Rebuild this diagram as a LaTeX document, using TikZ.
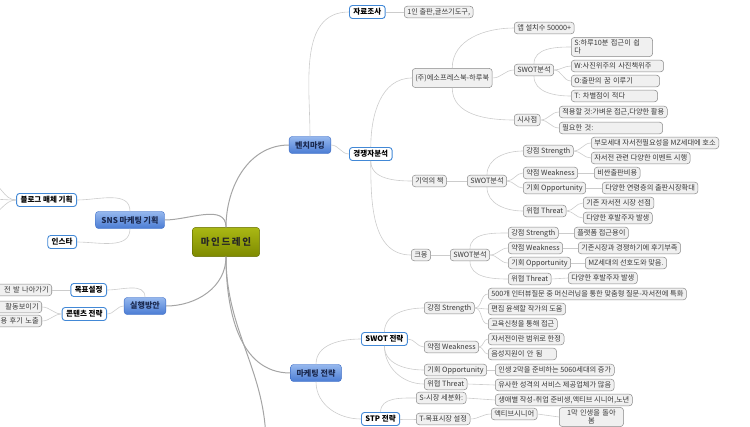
\documentclass[tikz,border=0pt]{standalone}
\usepackage{fontspec}
\setmainfont{Noto Sans CJK KR}
\usepackage{tikz}
\definecolor{olivetop}{RGB}{170,184,20}
\definecolor{olivebot}{RGB}{126,138,0}
\definecolor{oliveedge}{RGB}{100,110,0}
\definecolor{bluetop}{RGB}{150,184,238}
\definecolor{bluebot}{RGB}{74,124,212}
\definecolor{blueedge}{RGB}{58,106,196}
\definecolor{navytext}{RGB}{26,40,78}
\definecolor{subedge}{RGB}{66,136,214}
\definecolor{leafgrey}{RGB}{240,240,240}
\definecolor{leafedge}{RGB}{136,136,136}
\definecolor{linkgrey}{RGB}{204,204,204}
\definecolor{trunkgrey}{RGB}{165,165,165}

\begin{document}
\begin{tikzpicture}[
  x=0.035cm, y=-0.035cm,
  font=\fontsize{7.2}{8.2}\selectfont,
  centre/.style={draw=oliveedge, top color=olivetop, bottom color=olivebot, rounded corners=3pt, minimum width=67, minimum height=29, text=black!85, font=\bfseries\fontsize{9.5}{11}\selectfont},
  topic/.style={draw=blueedge, top color=bluetop, bottom color=bluebot, rounded corners=3pt, minimum height=17, inner xsep=6, text=navytext, font=\bfseries\fontsize{8}{9}\selectfont},
  sub/.style={draw=subedge, line width=0.9pt, fill=white, rounded corners=3pt, minimum height=13, inner xsep=4, inner ysep=1.5, font=\bfseries\fontsize{7.5}{8.5}\selectfont},
  leaf/.style={draw=leafedge, fill=leafgrey, rounded corners=3pt, minimum height=11.5, inner xsep=3, inner ysep=1.5, text=black!78, line width=0.5pt},
  link/.style={draw=linkgrey, line width=0.6pt},
  trunk/.style={draw=trunkgrey, line width=1pt},
  rise/.style={out=90, in=180},
  fall/.style={out=-90, in=180},
  flat/.style={out=0, in=180}
]
\useasboundingbox (0,0) rectangle (750,427);
\clip (0,0) rectangle (750,427);

% centre and main topics
\node[centre] (root) at (226,242) {마\,인\,드\,레\,인};
\node[topic] (bench) at (310,145) {벤치마킹};
\node[topic] (sns)   at (130,220) {SNS 마케팅 기획};
\node[topic] (plan)  at (145,306) {실행방안};
\node[topic] (mkt)   at (316,373) {마케팅 전략};
\coordinate (lower) at (266,445);

% second level
\node[sub, anchor=west] (survey)   at (349,12)  {자료조사};
\node[sub, anchor=west] (rival)    at (349,154) {경쟁자분석};
\node[sub, anchor=east] (blog)     at (77,200)  {블로그 매체 기획};
\node[sub, anchor=east] (insta)    at (77,242)  {인스타};
\node[sub, anchor=east] (goal)     at (107,290) {목표설정};
\node[sub, anchor=east] (content)  at (107,314) {콘텐츠 전략};
\node[sub, anchor=west] (swotplan) at (361,339) {SWOT 전략};
\node[sub, anchor=west] (stp)      at (361,419) {STP 전략};

% 자료조사
\node[leaf, anchor=west] (tools) at (404,12) {1인 출판,글쓰기도구,};

% 경쟁자분석 : 하루북
\node[leaf, anchor=west, minimum height=19] (harubook) at (412,78) {(주)에소프레스북-하루북};
\node[leaf, anchor=west] (installs) at (514,28) {앱 설치수 50000+};
\node[leaf, anchor=west] (swot1) at (514,70) {SWOT분석};
\node[leaf, anchor=west, text width=75, align=left, minimum height=19] (s1) at (571,47) {S:하루10분 접근이 쉽\\다};
\node[leaf, anchor=west, text width=86, align=left] (w1) at (571,66) {W:사진위주의 사진책위주};
\node[leaf, anchor=west, text width=82, align=left] (o1) at (571,81) {O:출판의 꿈 이루기};
\node[leaf, anchor=west, text width=80, align=left] (t1) at (571,96) {T: 차별점이 적다};
\node[leaf, anchor=west] (insight) at (514,120) {시사점};
\node[leaf, anchor=west] (apply) at (559,112) {적용할 것:가벼운 접근,다양한 활용};
\node[leaf, anchor=west, text width=97, align=left] (need) at (559,128) {필요한 것:};

% 경쟁자분석 : 기억의 책
\node[leaf, anchor=west] (memory) at (412,181) {기억의 책};
\node[leaf, anchor=west] (swot2) at (467,181) {SWOT분석};
\node[leaf, anchor=west] (str2) at (523,151) {강점 Strength};
\node[leaf, anchor=west] (str2a) at (591,143) {부모세대 자서전필요성을 MZ세대에 호소};
\node[leaf, anchor=west] (str2b) at (591,158) {자서전 관련 다양한 이벤트 시행};
\node[leaf, anchor=west] (weak2) at (523,173) {약점 Weakness};
\node[leaf, anchor=west] (weak2a) at (594,173) {비싼출판비용};
\node[leaf, anchor=west] (opp2) at (523,188) {기회 Opportunity};
\node[leaf, anchor=west] (opp2a) at (602,188) {다양한 연령층의 출판시장확대};
\node[leaf, anchor=west] (thr2) at (523,211) {위협 Threat};
\node[leaf, anchor=west] (thr2a) at (583,203) {기존 자서전 시장 선점};
\node[leaf, anchor=west] (thr2b) at (583,218) {다양한 후발주자 발생};

% 경쟁자분석 : 크몽
\node[leaf, anchor=west] (kmong) at (411,255) {크몽};
\node[leaf, anchor=west] (swot3) at (450,255) {SWOT분석};
\node[leaf, anchor=west] (str3) at (508,233) {강점 Strength};
\node[leaf, anchor=west] (str3a) at (574,233) {플랫폼 접근용이};
\node[leaf, anchor=west] (weak3) at (508,248) {약점 Weakness};
\node[leaf, anchor=west] (weak3a) at (578,248) {기존시장과 경쟁하기에 후기부족};
\node[leaf, anchor=west] (opp3) at (508,263) {기회 Opportunity};
\node[leaf, anchor=west] (opp3a) at (585,263) {MZ세대의 선호도와 맞음.};
\node[leaf, anchor=west] (thr3) at (508,279) {위협 Threat};
\node[leaf, anchor=west] (thr3a) at (568,278) {다양한 후발주자 발생};

% SWOT 전략
\node[leaf, anchor=west] (str4) at (424,308) {강점 Strength};
\node[leaf, anchor=west] (str4a) at (488,294) {500개 인터뷰질문 중 머신러닝을 통한 맞춤형 질문-자서전에 특화};
\node[leaf, anchor=west] (str4b) at (488,309) {편집 윤색할 작가의 도움};
\node[leaf, anchor=west] (str4c) at (488,324) {교육신청을 통해 접근};
\node[leaf, anchor=west] (weak4) at (424,347) {약점 Weakness};
\node[leaf, anchor=west] (weak4a) at (488,339) {자서전이란 범위로 한정};
\node[leaf, anchor=west, text width=62, align=left] (weak4b) at (488,354) {음성지원이 안 됨};
\node[leaf, anchor=west] (opp4) at (424,370) {기회 Opportunity};
\node[leaf, anchor=west] (opp4a) at (495,370) {인생 2막을 준비하는 5060세대의 증가};
\node[leaf, anchor=west] (thr4) at (424,384) {위협 Threat};
\node[leaf, anchor=west] (thr4a) at (495,385) {유사한 성격의 서비스 제공업체가 많음};

% STP 전략
\node[leaf, anchor=west] (seg) at (416,398) {S-시장 세분화:};
\node[leaf, anchor=west] (sega) at (495,400) {생애별 작성-취업 준비생,액티브 시니어,노년};
\node[leaf, anchor=west] (target) at (416,419) {T-목표시장 설정};
\node[leaf, anchor=west] (active) at (491,414) {액티브시니어};
\node[leaf, anchor=west, text width=58, minimum height=19, align=center] (activea) at (559,417) {1막 인생을 돌아\\봄};

% left side, cut by the frame
\node[leaf, anchor=east, text width=60, align=right] (step1) at (52,290) {전 발 나아가기};
\node[leaf, anchor=east, text width=50, align=right] (act1) at (42,307) {활동보이기};
\node[leaf, anchor=east, text width=50, align=right] (review1) at (42,321) {용 후기 노출};
\coordinate (off1) at (-12,182);
\coordinate (off2) at (-12,199);
\coordinate (off3) at (-12,215);

% connectors from the centre
\draw[trunk] (root.north) to[out=90, in=0] (sns.east);
\draw[trunk] (root.north) to[rise] (bench.west);
\draw[trunk] (root.south) to[out=-90, in=0] (plan.east);
\draw[trunk] (root.south) to[fall] (mkt.west);
\draw[trunk] (root.south) to[out=-90, in=90] (lower);

% 벤치마킹
\draw[link] (bench.north) to[rise] (survey.west);
\draw[link] (bench.east) to[flat] (rival.west);
\draw[link] (survey.east) -- (tools.west);
\draw[link] (rival.north) to[rise] (harubook.west);
\draw[link] (rival.south) to[fall] (memory.west);
\draw[link] (rival.south) to[fall] (kmong.west);

\draw[link] (harubook.north) to[rise] (installs.west);
\draw[link] (harubook.east) to[flat] (swot1.west);
\draw[link] (harubook.south) to[fall] (insight.west);
\draw[link] (swot1.north) to[rise] (s1.west);
\draw[link] (swot1.east) to[flat] (w1.west);
\draw[link] (swot1.east) to[flat] (o1.west);
\draw[link] (swot1.south) to[fall] (t1.west);
\draw[link] (insight.east) to[flat] (apply.west);
\draw[link] (insight.east) to[flat] (need.west);

\draw[link] (memory.east) -- (swot2.west);
\draw[link] (swot2.north) to[rise] (str2.west);
\draw[link] (swot2.east) to[flat] (weak2.west);
\draw[link] (swot2.east) to[flat] (opp2.west);
\draw[link] (swot2.south) to[fall] (thr2.west);
\draw[link] (str2.east) to[flat] (str2a.west);
\draw[link] (str2.east) to[flat] (str2b.west);
\draw[link] (weak2.east) -- (weak2a.west);
\draw[link] (opp2.east) -- (opp2a.west);
\draw[link] (thr2.east) to[flat] (thr2a.west);
\draw[link] (thr2.east) to[flat] (thr2b.west);

\draw[link] (kmong.east) -- (swot3.west);
\draw[link] (swot3.north) to[rise] (str3.west);
\draw[link] (swot3.east) to[flat] (weak3.west);
\draw[link] (swot3.east) to[flat] (opp3.west);
\draw[link] (swot3.south) to[fall] (thr3.west);
\draw[link] (str3.east) -- (str3a.west);
\draw[link] (weak3.east) -- (weak3a.west);
\draw[link] (opp3.east) -- (opp3a.west);
\draw[link] (thr3.east) -- (thr3a.west);

% 마케팅 전략
\draw[link] (mkt.north) to[rise] (swotplan.west);
\draw[link] (mkt.south) to[fall] (stp.west);
\draw[link] (swotplan.north) to[rise] (str4.west);
\draw[link] (swotplan.east) to[flat] (weak4.west);
\draw[link] (swotplan.south) to[fall] (opp4.west);
\draw[link] (swotplan.south) to[fall] (thr4.west);
\draw[link] (str4.east) to[flat] (str4a.west);
\draw[link] (str4.east) to[flat] (str4b.west);
\draw[link] (str4.east) to[flat] (str4c.west);
\draw[link] (weak4.east) to[flat] (weak4a.west);
\draw[link] (weak4.east) to[flat] (weak4b.west);
\draw[link] (opp4.east) -- (opp4a.west);
\draw[link] (thr4.east) -- (thr4a.west);
\draw[link] (stp.north) to[rise] (seg.west);
\draw[link] (stp.east) to[flat] (target.west);
\draw[link] (seg.east) -- (sega.west);
\draw[link] (target.east) to[flat] (active.west);
\draw[link] (active.east) -- (activea.west);

% SNS and 실행방안
\draw[link] (sns.north) to[out=90, in=0] (blog.east);
\draw[link] (sns.south) to[out=-90, in=0] (insta.east);
\draw[link] (blog.west) to[out=180, in=0] (off1);
\draw[link] (blog.west) to[out=180, in=0] (off2);
\draw[link] (blog.west) to[out=180, in=0] (off3);
\draw[link] (plan.north) to[out=90, in=0] (goal.east);
\draw[link] (plan.west) to[out=180, in=0] (content.east);
\draw[link] (goal.west) -- (step1.east);
\draw[link] (content.west) to[out=180, in=0] (act1.east);
\draw[link] (content.west) to[out=180, in=0] (review1.east);
\end{tikzpicture}
\end{document}
